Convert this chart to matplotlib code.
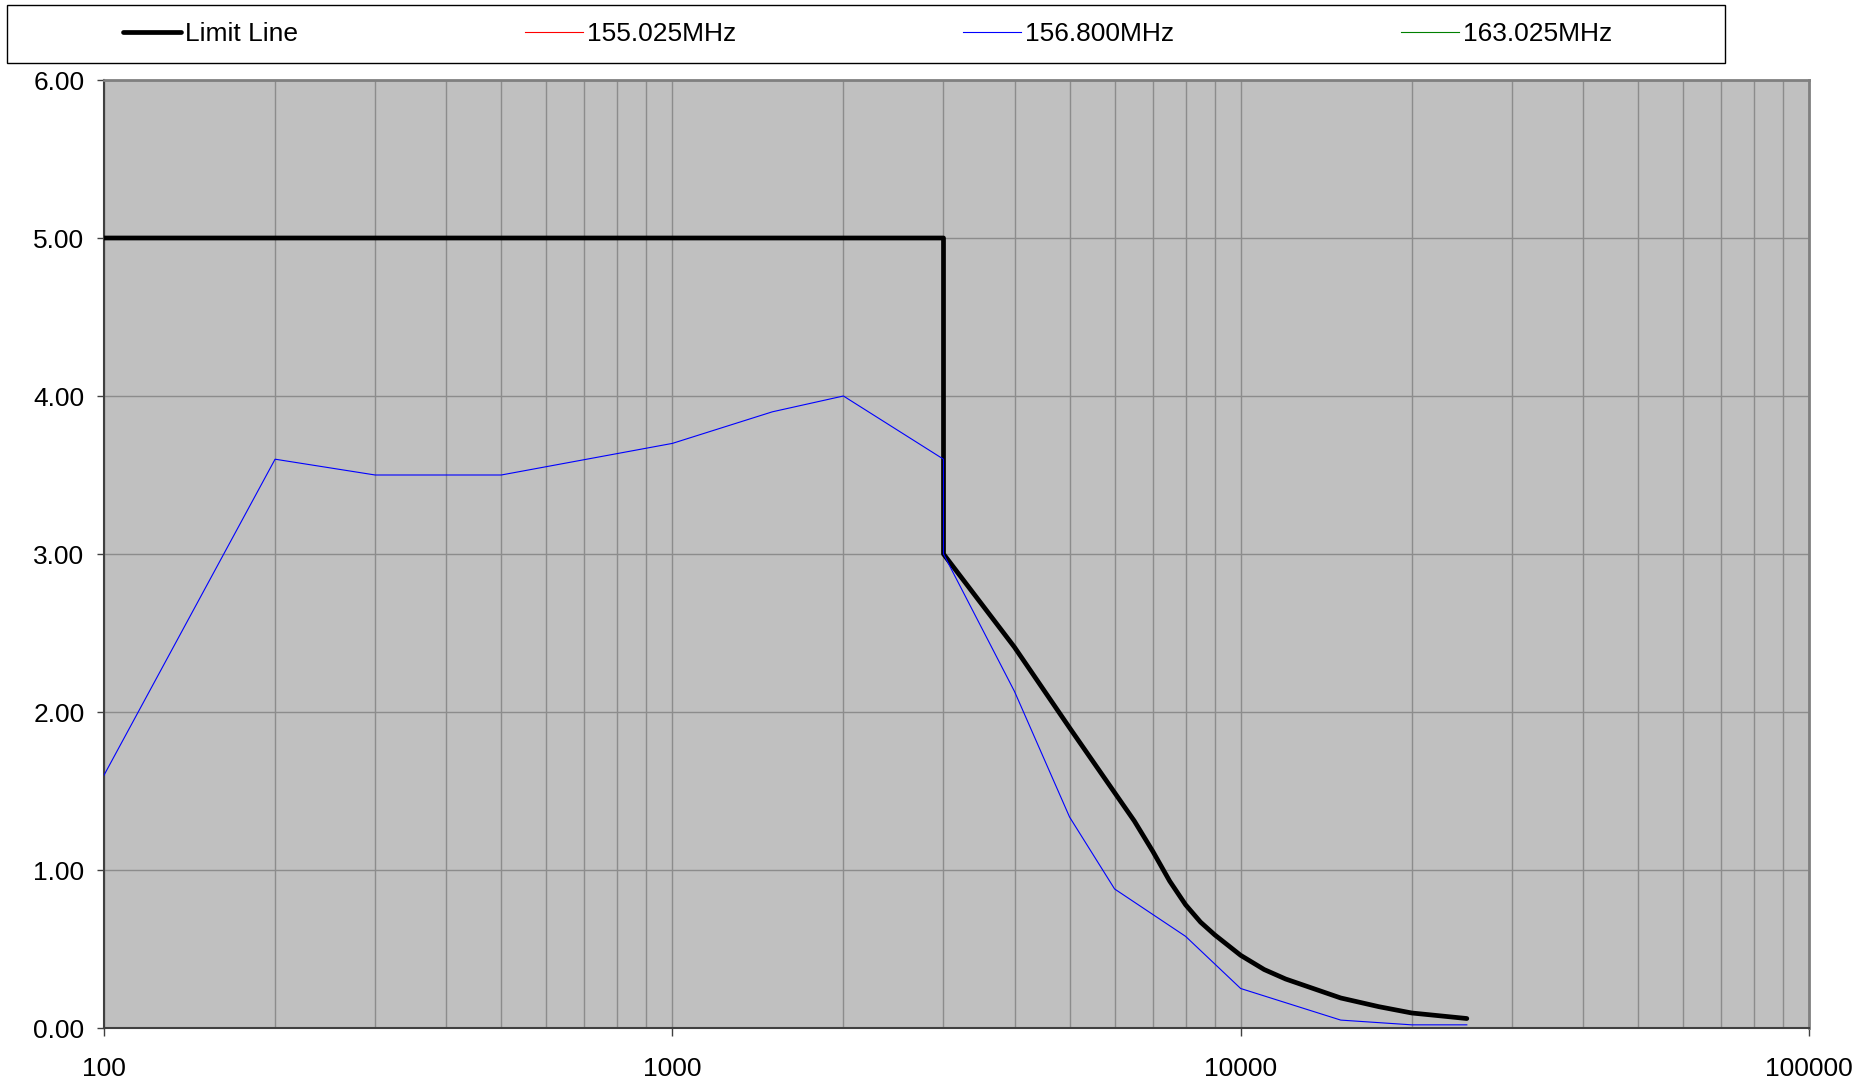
import matplotlib
matplotlib.use('Agg')
import matplotlib.pyplot as plt
from matplotlib.ticker import FixedLocator, LogLocator, NullFormatter, FuncFormatter
from matplotlib.patches import Rectangle

plt.rcParams['font.family'] = ['Liberation Sans', 'DejaVu Sans']

# ---- data ----
limit_freq = [100, 3000, 3000, 4000, 5000, 6000, 6500, 7000, 7500, 8000, 8500, 9000,
              10000, 11000, 12000, 15000, 17500, 20000, 25000]
limit_val = [5.0, 5.0, 3.0, 2.41, 1.90, 1.49, 1.31, 1.12, 0.93, 0.78, 0.67, 0.59,
             0.46, 0.37, 0.31, 0.19, 0.135, 0.095, 0.06]

f155_freq = []
f155_val = []

f156_freq = [100, 200, 300, 500, 1000, 1500, 2000, 3000, 3000, 4000, 5000, 6000, 8000, 10000, 15000, 20000, 25000]
f156_val = [1.6, 3.6, 3.5, 3.5, 3.7, 3.9, 4.0, 3.6, 3.0, 2.13, 1.335, 0.88, 0.58, 0.25, 0.05, 0.02, 0.02]

f163_freq = []
f163_val = []

series_labels = ['Limit Line', '155.025MHz', '156.800MHz', '163.025MHz']
y_ticks = [0, 1, 2, 3, 4, 5, 6]
x_ticks = [100, 1000, 10000, 100000]

W, H = 1870, 1083
fig = plt.figure(figsize=(W / 100, H / 100), dpi=100)
fig.patch.set_facecolor('white')

L, R, T, B = 104, 1809, 80, 1028
ax = fig.add_axes([L / W, 1 - B / H, (R - L) / W, (B - T) / H])
ax.set_facecolor('#C0C0C0')

ax.plot(limit_freq, limit_val, color='black', lw=3.4, solid_joinstyle='round',
        solid_capstyle='round', zorder=3, label=series_labels[0])
ax.plot(f155_freq, f155_val, color='#FF0000', lw=0.8, zorder=4, label=series_labels[1])
ax.plot(f156_freq, f156_val, color='#0000FF', lw=0.8, zorder=5, label=series_labels[2])
ax.plot(f163_freq, f163_val, color='#008000', lw=0.8, zorder=6, label=series_labels[3])

ax.set_xscale('log')
ax.set_xlim(100, 100000)
ax.set_ylim(0, 6)
ax.xaxis.set_major_locator(FixedLocator(x_ticks))
ax.xaxis.set_minor_locator(LogLocator(base=10, subs=range(2, 10), numticks=20))
ax.xaxis.set_major_formatter(FuncFormatter(lambda v, p: f'{int(round(v))}'))
ax.xaxis.set_minor_formatter(NullFormatter())
ax.yaxis.set_major_locator(FixedLocator(y_ticks))
ax.yaxis.set_major_formatter(FuncFormatter(lambda v, p: f'{v:.2f}'))

gc = '#8C8C8C'
ax.grid(True, which='major', axis='both', color=gc, lw=1.0, zorder=1)
ax.grid(True, which='minor', axis='x', color=gc, lw=1.0, zorder=1)
ax.set_axisbelow(True)

ax.tick_params(axis='y', which='major', direction='out', length=5, width=1,
               color='#404040', labelsize=19, pad=9, labelcolor='black')
ax.tick_params(axis='x', which='major', direction='out', length=6, width=1,
               color='#404040', labelsize=19, pad=15, labelcolor='black')
ax.tick_params(axis='x', which='minor', length=0)

for s in ('left', 'bottom'):
    ax.spines[s].set_color('#404040')
    ax.spines[s].set_linewidth(1.5)
for s in ('top', 'right'):
    ax.spines[s].set_color('#808080')
    ax.spines[s].set_linewidth(2.0)

# legend frame
lx0, lx1, ly0, ly1 = 7, 1725, 5, 63
fig.patches.append(Rectangle((lx0 / W, 1 - ly1 / H), (lx1 - lx0) / W, (ly1 - ly0) / H,
                             transform=fig.transFigure, facecolor='white',
                             edgecolor='black', lw=1.0, zorder=0))

handles, labels = ax.get_legend_handles_labels()
ex0, ex1 = 123, 1612
leg = fig.legend(handles, labels, ncol=4, mode='expand', loc='center',
                 bbox_to_anchor=(ex0 / W, 1 - ly1 / H, (ex1 - ex0) / W, (ly1 - ly0) / H),
                 frameon=False, borderaxespad=0, borderpad=0, fontsize=19,
                 handlelength=2.2, handletextpad=0.15, columnspacing=1.0)
for t in leg.get_texts():
    t.set_color('black')

fig.savefig('out.png', dpi=100)
